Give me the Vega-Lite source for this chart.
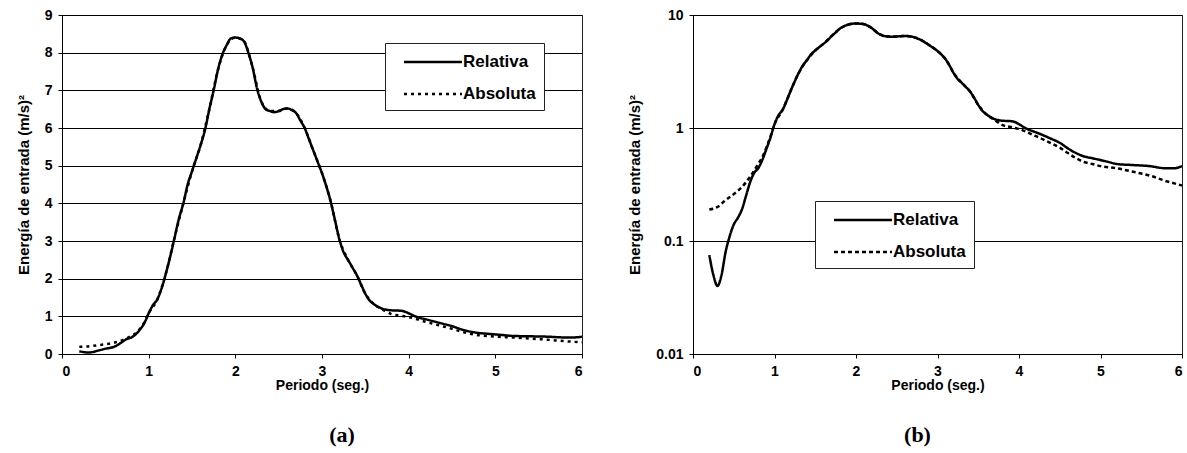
{
  "$schema": "https://vega.github.io/schema/vega-lite/v6.json",
  "autosize": {"type": "pad"},
  "bounds": "flush",
  "padding": {"left": 15, "top": 7, "right": 0, "bottom": 0},
  "spacing": 111,
  "background": "white",
  "config": {
    "font": "Liberation Sans",
    "view": {"stroke": "#222", "strokeWidth": 1},
    "axis": {
      "labelFont": "Liberation Sans",
      "labelFontSize": 14,
      "labelFontWeight": "bold",
      "labelColor": "black",
      "titleFont": "Liberation Sans",
      "titleFontSize": 14,
      "titleFontWeight": "bold",
      "titleColor": "black",
      "domainColor": "black",
      "tickColor": "black",
      "tickSize": 4,
      "labelPadding": 6,
      "gridColor": "black",
      "gridOpacity": 1,
      "gridWidth": 1
    },
    "legend": {
      "orient": "none",
      "title": null,
      "symbolType": "M0,0H6.1",
      "symbolStrokeColor": "black",
      "symbolStrokeWidth": 2.5,
      "symbolSize": 361,
      "labelFont": "Liberation Sans",
      "labelFontSize": 17,
      "labelFontWeight": "bold",
      "labelColor": "black",
      "labelOffset": 48,
      "strokeColor": "#222",
      "fillColor": "white",
      "padding": 8,
      "rowPadding": 13
    },
    "title": {
      "font": "Liberation Serif",
      "fontSize": 22,
      "fontWeight": "bold",
      "color": "black",
      "orient": "bottom",
      "offset": 33
    }
  },
  "datasets": {
    "energia": [
      {"t": 0.2, "serie": "Relativa", "e": 0.075},
      {"t": 0.25, "serie": "Relativa", "e": 0.05},
      {"t": 0.3, "serie": "Relativa", "e": 0.04},
      {"t": 0.35, "serie": "Relativa", "e": 0.05},
      {"t": 0.4, "serie": "Relativa", "e": 0.08},
      {"t": 0.45, "serie": "Relativa", "e": 0.11},
      {"t": 0.5, "serie": "Relativa", "e": 0.14},
      {"t": 0.55, "serie": "Relativa", "e": 0.16},
      {"t": 0.6, "serie": "Relativa", "e": 0.19},
      {"t": 0.65, "serie": "Relativa", "e": 0.25},
      {"t": 0.7, "serie": "Relativa", "e": 0.33},
      {"t": 0.75, "serie": "Relativa", "e": 0.4},
      {"t": 0.8, "serie": "Relativa", "e": 0.44},
      {"t": 0.85, "serie": "Relativa", "e": 0.52},
      {"t": 0.9, "serie": "Relativa", "e": 0.65},
      {"t": 0.95, "serie": "Relativa", "e": 0.82},
      {"t": 1.0, "serie": "Relativa", "e": 1.08},
      {"t": 1.05, "serie": "Relativa", "e": 1.3},
      {"t": 1.1, "serie": "Relativa", "e": 1.45},
      {"t": 1.15, "serie": "Relativa", "e": 1.75},
      {"t": 1.2, "serie": "Relativa", "e": 2.15},
      {"t": 1.25, "serie": "Relativa", "e": 2.6},
      {"t": 1.3, "serie": "Relativa", "e": 3.1},
      {"t": 1.35, "serie": "Relativa", "e": 3.6},
      {"t": 1.4, "serie": "Relativa", "e": 4.0},
      {"t": 1.45, "serie": "Relativa", "e": 4.5},
      {"t": 1.5, "serie": "Relativa", "e": 4.85},
      {"t": 1.55, "serie": "Relativa", "e": 5.2},
      {"t": 1.6, "serie": "Relativa", "e": 5.55},
      {"t": 1.65, "serie": "Relativa", "e": 5.95},
      {"t": 1.7, "serie": "Relativa", "e": 6.5},
      {"t": 1.75, "serie": "Relativa", "e": 7.0},
      {"t": 1.8, "serie": "Relativa", "e": 7.55},
      {"t": 1.85, "serie": "Relativa", "e": 7.95},
      {"t": 1.9, "serie": "Relativa", "e": 8.2},
      {"t": 1.95, "serie": "Relativa", "e": 8.38},
      {"t": 2.0, "serie": "Relativa", "e": 8.4},
      {"t": 2.05, "serie": "Relativa", "e": 8.38},
      {"t": 2.1, "serie": "Relativa", "e": 8.3},
      {"t": 2.15, "serie": "Relativa", "e": 8.0},
      {"t": 2.2, "serie": "Relativa", "e": 7.6},
      {"t": 2.25, "serie": "Relativa", "e": 7.05},
      {"t": 2.3, "serie": "Relativa", "e": 6.7},
      {"t": 2.35, "serie": "Relativa", "e": 6.5},
      {"t": 2.4, "serie": "Relativa", "e": 6.45},
      {"t": 2.45, "serie": "Relativa", "e": 6.42},
      {"t": 2.5, "serie": "Relativa", "e": 6.45},
      {"t": 2.55, "serie": "Relativa", "e": 6.5},
      {"t": 2.6, "serie": "Relativa", "e": 6.52},
      {"t": 2.65, "serie": "Relativa", "e": 6.48},
      {"t": 2.7, "serie": "Relativa", "e": 6.4},
      {"t": 2.75, "serie": "Relativa", "e": 6.2},
      {"t": 2.8, "serie": "Relativa", "e": 6.0},
      {"t": 2.85, "serie": "Relativa", "e": 5.7},
      {"t": 2.9, "serie": "Relativa", "e": 5.4},
      {"t": 2.95, "serie": "Relativa", "e": 5.1},
      {"t": 3.0, "serie": "Relativa", "e": 4.8},
      {"t": 3.05, "serie": "Relativa", "e": 4.45},
      {"t": 3.1, "serie": "Relativa", "e": 4.05},
      {"t": 3.15, "serie": "Relativa", "e": 3.55},
      {"t": 3.2, "serie": "Relativa", "e": 3.05},
      {"t": 3.25, "serie": "Relativa", "e": 2.7},
      {"t": 3.3, "serie": "Relativa", "e": 2.5},
      {"t": 3.35, "serie": "Relativa", "e": 2.3},
      {"t": 3.4, "serie": "Relativa", "e": 2.1},
      {"t": 3.45, "serie": "Relativa", "e": 1.85},
      {"t": 3.5, "serie": "Relativa", "e": 1.6},
      {"t": 3.55, "serie": "Relativa", "e": 1.42},
      {"t": 3.6, "serie": "Relativa", "e": 1.32},
      {"t": 3.65, "serie": "Relativa", "e": 1.25},
      {"t": 3.7, "serie": "Relativa", "e": 1.2},
      {"t": 3.8, "serie": "Relativa", "e": 1.16},
      {"t": 3.9, "serie": "Relativa", "e": 1.15},
      {"t": 3.95, "serie": "Relativa", "e": 1.13},
      {"t": 4.0, "serie": "Relativa", "e": 1.08},
      {"t": 4.1, "serie": "Relativa", "e": 0.98},
      {"t": 4.2, "serie": "Relativa", "e": 0.92},
      {"t": 4.3, "serie": "Relativa", "e": 0.86},
      {"t": 4.4, "serie": "Relativa", "e": 0.8},
      {"t": 4.5, "serie": "Relativa", "e": 0.74},
      {"t": 4.6, "serie": "Relativa", "e": 0.66},
      {"t": 4.7, "serie": "Relativa", "e": 0.6},
      {"t": 4.8, "serie": "Relativa", "e": 0.56},
      {"t": 4.9, "serie": "Relativa", "e": 0.54},
      {"t": 5.0, "serie": "Relativa", "e": 0.52},
      {"t": 5.1, "serie": "Relativa", "e": 0.5},
      {"t": 5.2, "serie": "Relativa", "e": 0.48},
      {"t": 5.4, "serie": "Relativa", "e": 0.47},
      {"t": 5.6, "serie": "Relativa", "e": 0.46},
      {"t": 5.8, "serie": "Relativa", "e": 0.44},
      {"t": 5.9, "serie": "Relativa", "e": 0.44},
      {"t": 6.0, "serie": "Relativa", "e": 0.46},
      {"t": 0.2, "serie": "Absoluta", "e": 0.19},
      {"t": 0.3, "serie": "Absoluta", "e": 0.2},
      {"t": 0.4, "serie": "Absoluta", "e": 0.23},
      {"t": 0.5, "serie": "Absoluta", "e": 0.26},
      {"t": 0.6, "serie": "Absoluta", "e": 0.3},
      {"t": 0.7, "serie": "Absoluta", "e": 0.37},
      {"t": 0.8, "serie": "Absoluta", "e": 0.48},
      {"t": 0.85, "serie": "Absoluta", "e": 0.55},
      {"t": 0.9, "serie": "Absoluta", "e": 0.67},
      {"t": 0.95, "serie": "Absoluta", "e": 0.84},
      {"t": 1.0, "serie": "Absoluta", "e": 1.08},
      {"t": 1.1, "serie": "Absoluta", "e": 1.45},
      {"t": 1.2, "serie": "Absoluta", "e": 2.15},
      {"t": 1.3, "serie": "Absoluta", "e": 3.1},
      {"t": 1.4, "serie": "Absoluta", "e": 4.0},
      {"t": 1.5, "serie": "Absoluta", "e": 4.85},
      {"t": 1.6, "serie": "Absoluta", "e": 5.55},
      {"t": 1.7, "serie": "Absoluta", "e": 6.5},
      {"t": 1.8, "serie": "Absoluta", "e": 7.55},
      {"t": 1.9, "serie": "Absoluta", "e": 8.2},
      {"t": 2.0, "serie": "Absoluta", "e": 8.4},
      {"t": 2.1, "serie": "Absoluta", "e": 8.3},
      {"t": 2.2, "serie": "Absoluta", "e": 7.6},
      {"t": 2.3, "serie": "Absoluta", "e": 6.7},
      {"t": 2.4, "serie": "Absoluta", "e": 6.45},
      {"t": 2.5, "serie": "Absoluta", "e": 6.45},
      {"t": 2.6, "serie": "Absoluta", "e": 6.52},
      {"t": 2.7, "serie": "Absoluta", "e": 6.4},
      {"t": 2.8, "serie": "Absoluta", "e": 6.0},
      {"t": 2.9, "serie": "Absoluta", "e": 5.4},
      {"t": 3.0, "serie": "Absoluta", "e": 4.8},
      {"t": 3.1, "serie": "Absoluta", "e": 4.05},
      {"t": 3.2, "serie": "Absoluta", "e": 3.05},
      {"t": 3.3, "serie": "Absoluta", "e": 2.5},
      {"t": 3.4, "serie": "Absoluta", "e": 2.1},
      {"t": 3.5, "serie": "Absoluta", "e": 1.6},
      {"t": 3.6, "serie": "Absoluta", "e": 1.32},
      {"t": 3.7, "serie": "Absoluta", "e": 1.18},
      {"t": 3.8, "serie": "Absoluta", "e": 1.06},
      {"t": 3.9, "serie": "Absoluta", "e": 1.02},
      {"t": 4.0, "serie": "Absoluta", "e": 0.98},
      {"t": 4.1, "serie": "Absoluta", "e": 0.92},
      {"t": 4.2, "serie": "Absoluta", "e": 0.85},
      {"t": 4.3, "serie": "Absoluta", "e": 0.79},
      {"t": 4.4, "serie": "Absoluta", "e": 0.73},
      {"t": 4.5, "serie": "Absoluta", "e": 0.67},
      {"t": 4.6, "serie": "Absoluta", "e": 0.6},
      {"t": 4.7, "serie": "Absoluta", "e": 0.54},
      {"t": 4.8, "serie": "Absoluta", "e": 0.5},
      {"t": 4.9, "serie": "Absoluta", "e": 0.48},
      {"t": 5.0, "serie": "Absoluta", "e": 0.46},
      {"t": 5.2, "serie": "Absoluta", "e": 0.44},
      {"t": 5.4, "serie": "Absoluta", "e": 0.41},
      {"t": 5.6, "serie": "Absoluta", "e": 0.38},
      {"t": 5.8, "serie": "Absoluta", "e": 0.34},
      {"t": 6.0, "serie": "Absoluta", "e": 0.31}
    ]
  },
  "resolve": {
    "scale": {"y": "independent", "strokeDash": "independent"},
    "legend": {"strokeDash": "independent"}
  },
  "hconcat": [
    {
      "width": 520,
      "height": 339,
      "title": {"text": "(a)", "dx": 20},
      "data": {"name": "energia"},
      "mark": {"type": "line", "color": "black", "strokeWidth": 2.5, "interpolate": "monotone", "clip": true},
      "encoding": {
        "x": {
          "field": "t", "type": "quantitative",
          "scale": {"domain": [0, 6], "nice": false},
          "axis": {"title": "Periodo (seg.)", "values": [0, 1, 2, 3, 4, 5, 6], "grid": false, "titlePadding": 0}
        },
        "y": {
          "field": "e", "type": "quantitative",
          "scale": {"domain": [0, 9], "nice": false},
          "axis": {"title": "Energía de entrada (m/s)²", "titleFontSize": 15, "values": [0, 1, 2, 3, 4, 5, 6, 7, 8, 9], "grid": true, "titlePadding": 13}
        },
        "strokeDash": {
          "field": "serie", "type": "nominal",
          "scale": {"domain": ["Relativa", "Absoluta"], "range": [[1, 0], [3, 4]]},
          "legend": {"legendX": 323, "legendY": 28}
        }
      }
    },
    {
      "width": 489,
      "height": 339,
      "title": {"text": "(b)", "dx": -20},
      "data": {"name": "energia"},
      "mark": {"type": "line", "color": "black", "strokeWidth": 2.5, "interpolate": "monotone", "clip": true},
      "encoding": {
        "x": {
          "field": "t", "type": "quantitative",
          "scale": {"domain": [0, 6], "nice": false},
          "axis": {"title": "Periodo (seg.)", "values": [0, 1, 2, 3, 4, 5, 6], "grid": false, "titlePadding": 0}
        },
        "y": {
          "field": "e", "type": "quantitative",
          "scale": {"type": "log", "domain": [0.01, 10], "nice": false},
          "axis": {"title": "Energía de entrada (m/s)²", "titleFontSize": 15, "values": [0.01, 0.1, 1, 10], "format": "~g", "grid": true, "titlePadding": 13}
        },
        "strokeDash": {
          "field": "serie", "type": "nominal",
          "scale": {"domain": ["Relativa", "Absoluta"], "range": [[1, 0], [4, 3]]},
          "legend": {"legendX": 122, "legendY": 186}
        }
      }
    }
  ]
}
